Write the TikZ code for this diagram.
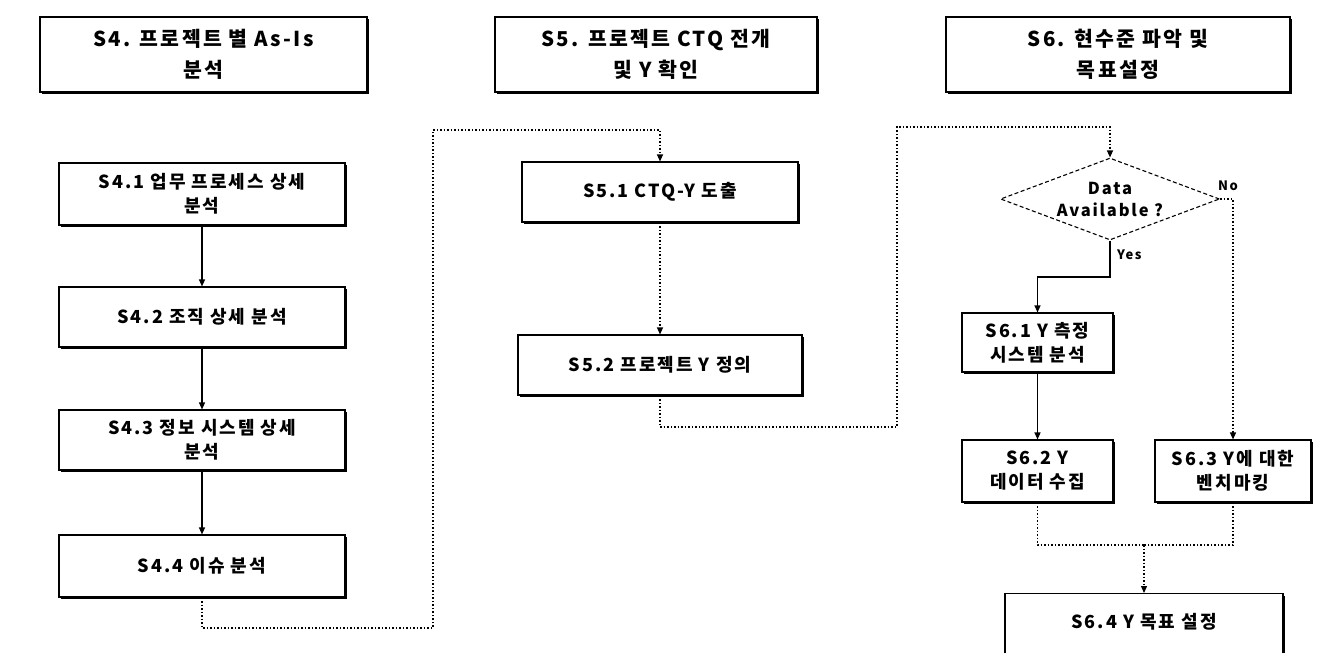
\documentclass[tikz,border=0pt]{standalone}
\usepackage{fontspec}
\setmainfont{Noto Sans CJK KR}[LetterSpace=11]
\usetikzlibrary{arrows.meta,shapes.geometric,shadows}
\begin{document}
\begin{tikzpicture}[x=1pt,y=-1pt,
  box/.style={draw=black, line width=1.1pt, fill=white, align=center, inner sep=0pt,
     drop shadow={shadow xshift=2.2pt, shadow yshift=-2.2pt, fill=black, opacity=1},
     font=\fontsize{18}{24}\selectfont\bfseries},
  hdr/.style={box, font=\fontsize{20.5}{31}\selectfont\bfseries},
  solidarr/.style={draw, line width=1.2pt, -{Triangle[length=7pt,width=6pt]}},
  dotarr/.style={draw, line width=1.2pt, dash pattern=on 1.5pt off 2pt, -{Triangle[length=7pt,width=6pt]}},
  dotline/.style={draw, line width=1.2pt, dash pattern=on 1.5pt off 2pt},
  lbl/.style={font=\fontsize{13}{15}\selectfont\bfseries, inner sep=0pt, anchor=west}
]
\useasboundingbox (0,0) rectangle (1333,653);
\fill[white] (0,0) rectangle (1333,653);
\clip (0,0) rectangle (1333,653);

% headers
\node[hdr, minimum width=327pt, minimum height=75pt] (h4) at (203.5,54.5) {S4. 프로젝트 별 As-Is\\분석};
\node[hdr, minimum width=322pt, minimum height=75pt] (h5) at (656,54.5) {S5. 프로젝트 CTQ 전개\\및 Y 확인};
\node[hdr, minimum width=344pt, minimum height=75pt] (h6) at (1118,54.5) {S6. 현수준 파악 및\\목표설정};

% left column
\node[box, minimum width=286pt, minimum height=62pt] (b41) at (202,194) {S4.1 업무 프로세스 상세\\분석};
\node[box, minimum width=286pt, minimum height=60pt] (b42) at (202,317) {S4.2 조직 상세 분석};
\node[box, minimum width=286pt, minimum height=60pt] (b43) at (202,440) {S4.3 정보 시스템 상세\\분석};
\node[box, minimum width=286pt, minimum height=62pt] (b44) at (202,566) {S4.4 이슈 분석};

% middle column
\node[box, minimum width=276pt, minimum height=60pt] (b51) at (660,192) {S5.1 CTQ-Y 도출};
\node[box, minimum width=284pt, minimum height=60pt] (b52) at (660,365) {S5.2 프로젝트 Y 정의};

% right column
\node[diamond, draw=black, line width=1.1pt, dash pattern=on 4pt off 2.5pt, fill=white,
      minimum width=219pt, minimum height=82pt, inner sep=0pt] (dia) at (1110,199) {};
\node[align=center, inner sep=0pt, font=\fontsize{16.5}{22}\selectfont\bfseries] (dt) at (dia.center) {Data\\Available ?};
\node[box, minimum width=151pt, minimum height=59pt] (b61) at (1037.5,342.5) {S6.1 Y 측정\\시스템 분석};
\node[box, minimum width=151pt, minimum height=62pt] (b62) at (1037.5,471) {S6.2 Y\\데이터 수집};
\node[box, minimum width=156pt, minimum height=62pt] (b63) at (1233,471) {S6.3 Y에 대한\\벤치마킹};
\node[box, minimum width=278pt, minimum height=110pt, anchor=north] (b64) at (1144,593) {};
\node[inner sep=0pt, font=\fontsize{18}{24}\selectfont\bfseries] (t64) at ([yshift=-29pt]b64.north) {S6.4 Y 목표 설정};

% connectors left
\path[solidarr] (b41) -- (b42);
\path[solidarr] (b42) -- (b43);
\path[solidarr] (b43) -- (b44);

\coordinate (c1) at (433,628);
\coordinate (c2) at (433,130);
\path[dotarr] (b44.south) |- (c1) -- (c2) -| (b51.north);
\path[dotarr] (b51) -- (b52);

\coordinate (c3) at (897,427);
\coordinate (c4) at (897,127);
\path[dotarr] (b52.south) |- (c3) -- (c4) -| (dia.north);

% diamond branches
\coordinate (cy) at (1110,277);
\path[solidarr] (dia.south) -- (cy) -| (b61.north);
\node[lbl] (yes) at (1117,255) {Yes};
\path[dotarr] (dia.east) -| (b63.north);
\node[lbl] (no) at (1218,186) {No};

\path[solidarr] (b61) -- (b62);

\coordinate (cm) at (1144,545);
\path[dotline] (b62.south) |- (cm);
\path[dotline] (b63.south) |- (cm);
\path[dotarr] (cm) -- (b64.north);
\end{tikzpicture}
\end{document}
